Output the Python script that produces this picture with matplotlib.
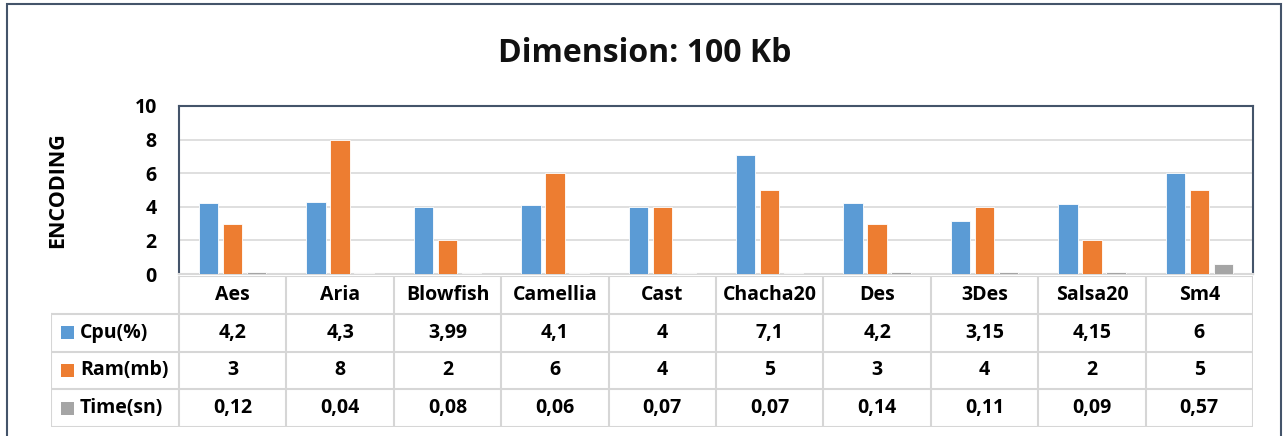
"""Dimension: 100 Kb — encoding results with an Excel-style data table."""

import matplotlib

matplotlib.use("Agg")
import matplotlib.pyplot as plt
from matplotlib.patches import Rectangle
import numpy as np

algorithms = ["Aes", "Aria", "Blowfish", "Camellia", "Cast", "Chacha20", "Des", "3Des", "Salsa20", "Sm4"]
cpu = [4.2, 4.3, 3.99, 4.1, 4, 7.1, 4.2, 3.15, 4.15, 6]
ram = [3, 8, 2, 6, 4, 5, 3, 4, 2, 5]
time_sn = [0.12, 0.04, 0.08, 0.06, 0.07, 0.07, 0.14, 0.11, 0.09, 0.57]
series_names = ["Cpu(%)", "Ram(mb)", "Time(sn)"]
series_colors = ["#5B9BD5", "#ED7D31", "#A5A5A5"]
y_ticks = [0, 2, 4, 6, 8, 10]

plt.rcParams["font.family"] = ["Open Sans", "DejaVu Sans"]
plt.rcParams["font.weight"] = "bold"

W, H = 1284, 436
fig = plt.figure(figsize=(W / 100, H / 100), dpi=100)


def box(x0, y0, x1, y1):
    # pixel box (top-left origin) -> figure fraction rect
    return [x0 / W, 1 - y1 / H, (x1 - x0) / W, (y1 - y0) / H]


# outer chart border
fig.patches.append(Rectangle((7 / W, -0.01), (1281 - 7) / W, 1 - 4 / H + 0.01,
                             transform=fig.transFigure, fill=False,
                             edgecolor="#44546A", linewidth=1.5))

fig.text(645 / W, 1 - 53 / H, "Dimension: 100 Kb", ha="center", va="center",
         fontsize=23, fontweight="bold", color="#111111")

ax = fig.add_axes(box(179, 106, 1253, 274))
x = np.arange(len(algorithms))
bw = 0.18
step = 0.223
for k, vals in enumerate([cpu, ram, time_sn]):
    ax.bar(x + (k - 1) * step, vals, width=bw, color=series_colors[k],
           edgecolor="white", linewidth=0.6, zorder=3)
ax.set_xlim(-0.5, len(algorithms) - 0.5)
ax.set_ylim(0, 10)
ax.set_yticks(y_ticks)
ax.set_yticklabels([str(t) for t in y_ticks], fontsize=14, fontweight="bold")
ax.set_xticks([])
ax.tick_params(axis="y", length=0, pad=16)
ax.grid(axis="y", color="#D9D9D9", linewidth=1.2, zorder=0)
for side in ax.spines.values():
    side.set_color("#44546A")
    side.set_linewidth(1.5)
ax.spines["bottom"].set_color("#D9D9D9")
fig.text(58 / W, 1 - 190 / H, "ENCODING", rotation=90, ha="center", va="center",
         fontsize=15.5, fontweight="bold")

# data table below the plot area
tab = fig.add_axes(box(51, 276, 1253, 427))
label_w = 128 / 107.4
tab.set_xlim(-0.5 - label_w, len(algorithms) - 0.5)
tab.set_ylim(4, 0)
tab.axis("off")
line_c = "#D6D6D6"
# horizontal lines
tab.plot([-0.5, len(algorithms) - 0.5], [0, 0], color=line_c, lw=1.5)
for r in [1, 2, 3, 4]:
    tab.plot([-0.5 - label_w, len(algorithms) - 0.5], [r, r], color=line_c, lw=1.5)
# vertical lines
tab.plot([-0.5 - label_w] * 2, [1, 4], color=line_c, lw=1.5)
for c in range(len(algorithms) + 1):
    tab.plot([c - 0.5] * 2, [0, 4], color=line_c, lw=1.5)

fs = 14
for i, name in enumerate(algorithms):
    tab.text(i, 0.5, name, ha="center", va="center", fontsize=fs, fontweight="bold")
rows = [cpu, ram, time_sn]
for r, vals in enumerate(rows):
    yc = r + 1.5
    tab.add_patch(Rectangle((-0.5 - label_w + 0.09, yc - 0.17), 0.125, 0.34,
                            color=series_colors[r], lw=0))
    tab.text(-0.5 - label_w + 0.27, yc, series_names[r], ha="left", va="center",
             fontsize=fs, fontweight="bold")
    for i, v in enumerate(vals):
        tab.text(i, yc, f"{v:g}".replace(".", ","), ha="center", va="center",
                 fontsize=fs, fontweight="bold")

fig.savefig("out.png", dpi=100)
